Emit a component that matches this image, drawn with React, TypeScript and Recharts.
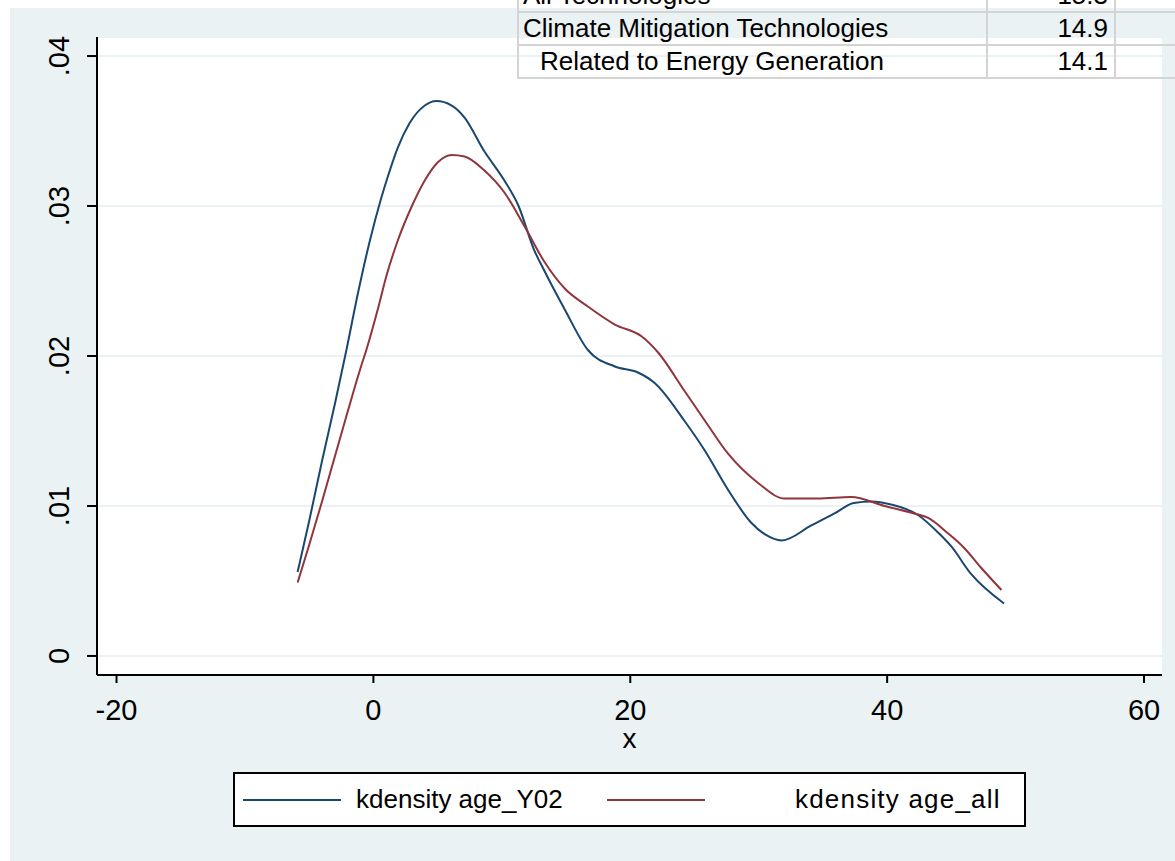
import React from 'react';
import { LineChart, Line, XAxis, YAxis, CartesianGrid } from 'recharts';

const xTicks = [-20, 0, 20, 40, 60];
const yTicks = [0, 0.01, 0.02, 0.03, 0.04];

const ageY02X = [-5.9, -5.0, -4.0, -3.0, -2.1, -1.2, -0.3, 0.6, 1.1, 1.9, 2.8, 4.0, 4.9, 6.1, 7.1, 8.6, 10.2, 11.3, 12.5, 13.3, 14.9, 16.7, 18.8, 20.6, 21.9, 24.2, 25.8, 27.6, 29.4, 30.5, 31.8, 34.1, 35.9, 37.4, 38.8, 40.3, 42.4, 44.0, 45.0, 46.5, 49.1];
const ageY02D = [0.0056, 0.0090, 0.0130, 0.0168, 0.0204, 0.0242, 0.0276, 0.0305, 0.0319, 0.0339, 0.0355, 0.0367, 0.0370, 0.0367, 0.0359, 0.0337, 0.0317, 0.0300, 0.0271, 0.0257, 0.0231, 0.0204, 0.0193, 0.0189, 0.0182, 0.0157, 0.0137, 0.0111, 0.0089, 0.0081, 0.0077, 0.0087, 0.0095, 0.0102, 0.0103, 0.0101, 0.0094, 0.0082, 0.0073, 0.0055, 0.0035];

const ageAllX = [-5.9, -5.0, -4.0, -3.0, -2.0, -1.0, -0.55, 0.4, 1.0, 1.9, 3.0, 4.0, 5.0, 6.1, 7.1, 8.6, 10.2, 11.8, 13.3, 14.9, 16.7, 18.8, 20.9, 22.2, 24.2, 25.8, 27.6, 30.0, 32.0, 34.6, 37.2, 39.8, 42.1, 43.2, 44.7, 46.0, 47.3, 48.9];
const ageAllD = [0.0049, 0.0074, 0.0103, 0.0133, 0.0163, 0.0192, 0.0204, 0.0233, 0.0253, 0.0277, 0.0300, 0.0317, 0.0329, 0.0334, 0.0333, 0.0324, 0.0309, 0.0286, 0.0263, 0.0245, 0.0233, 0.0221, 0.0213, 0.0202, 0.0177, 0.0157, 0.0135, 0.0115, 0.0105, 0.0105, 0.0106, 0.0100, 0.0095, 0.0092, 0.0082, 0.0072, 0.0059, 0.0044];

const seriesNames = ['kdensity age_Y02', 'kdensity age_all'];
const seriesColors = ['#1A476F', '#90353B'];

const tableRows = [
  { label: 'All Technologies', value: '15.3', indent: false },
  { label: 'Climate Mitigation Technologies', value: '14.9', indent: false },
  { label: 'Related to Energy Generation', value: '14.1', indent: true },
];

const dataY02 = ageY02X.map((x, i) => ({ x, y: ageY02D[i] }));
const dataAll = ageAllX.map((x, i) => ({ x, y: ageAllD[i] }));

const FONT = '"Liberation Sans", Arial, sans-serif';
const BG = '#EAF2F3';

const fmtY = (v: number) => (v === 0 ? '0' : v.toFixed(2).replace(/^0/, ''));

const YTick = (props: any) => {
  const { x, y, payload } = props;
  const tx = x - 18;
  return (
    <text
      x={tx}
      y={y}
      transform={`rotate(-90, ${tx}, ${y})`}
      textAnchor="middle"
      fontSize={29}
      fontFamily={FONT}
      fill="#000"
    >
      {fmtY(payload.value)}
    </text>
  );
};

const XLabel = (props: any) => {
  const vb = props.viewBox || {};
  return (
    <text
      x={vb.x + vb.width / 2}
      y={vb.y + 73}
      textAnchor="middle"
      fontSize={28}
      fontFamily={FONT}
      fill="#000"
    >
      x
    </text>
  );
};

export default function App() {
  return (
    <div style={{ position: 'absolute', left: 0, top: 0, width: 1175, height: 861, background: '#fff', overflow: 'hidden', fontFamily: FONT }}>
      <div style={{ position: 'absolute', left: 10, top: 8, right: 0, bottom: 0, background: BG }} />
      <div style={{ position: 'absolute', left: 0, top: 0 }}>
        <LineChart width={1175} height={861} margin={{ top: 37, right: 13, left: 0, bottom: 106 }}>
          <CartesianGrid vertical={false} fill="#fff" stroke={BG} strokeWidth={2} />
          <XAxis
            type="number"
            dataKey="x"
            domain={[-21.52, 61.4]}
            ticks={xTicks}
            allowDataOverflow
            height={80}
            tickSize={8}
            tickMargin={16}
            axisLine={{ stroke: '#000', strokeWidth: 2 }}
            tickLine={{ stroke: '#000', strokeWidth: 2 }}
            tick={{ fontSize: 29, fill: '#000', fontFamily: FONT }}
            label={<XLabel />}
          />
          <YAxis
            type="number"
            dataKey="y"
            domain={[-0.00127, 0.04127]}
            ticks={yTicks}
            allowDataOverflow
            width={97}
            tickSize={10}
            tickMargin={0}
            axisLine={{ stroke: '#000', strokeWidth: 2 }}
            tickLine={{ stroke: '#000', strokeWidth: 2 }}
            tick={<YTick />}
          />
          <Line data={dataY02} dataKey="y" name={seriesNames[0]} type="monotone" stroke={seriesColors[0]} strokeWidth={2} dot={false} isAnimationActive={false} />
          <Line data={dataAll} dataKey="y" name={seriesNames[1]} type="monotone" stroke={seriesColors[1]} strokeWidth={2} dot={false} isAnimationActive={false} />
        </LineChart>
      </div>

      {/* legend */}
      <div style={{ position: 'absolute', left: 233, top: 772, width: 789, height: 51, border: '2px solid #000', background: '#fff', boxSizing: 'content-box' }}>
        {seriesNames.map((n, i) => (
          <div key={n} style={{ position: 'absolute', left: i === 0 ? 8 : 372, top: 0, height: 51, display: 'flex', alignItems: 'center' }}>
            <div style={{ width: 98, height: 0, borderTop: `2px solid ${seriesColors[i]}` }} />
            <span style={{ marginLeft: i === 0 ? 15 : 90, fontSize: 26, color: '#000', whiteSpace: 'nowrap', letterSpacing: i === 0 ? 0 : 1.2 }}>{n}</span>
          </div>
        ))}
      </div>

      {/* overlay table */}
      <div style={{ position: 'absolute', left: 517, top: -22 }}>
        {tableRows.map((r, i) => (
          <div key={r.label} style={{ display: 'flex', height: 31, borderTop: '2px solid #d4d4d4', borderBottom: i === tableRows.length - 1 ? '2px solid #d4d4d4' : 'none' }}>
            <div style={{ width: 471, borderLeft: '2px solid #d4d4d4', borderRight: '2px solid #d4d4d4', fontSize: 26, lineHeight: '31px', paddingLeft: r.indent ? 21 : 4, boxSizing: 'border-box', color: '#000', whiteSpace: 'nowrap' }}>{r.label}</div>
            <div style={{ width: 128, borderRight: '2px solid #d4d4d4', fontSize: 26, lineHeight: '31px', textAlign: 'right', paddingRight: 6, boxSizing: 'border-box', color: '#000' }}>{r.value}</div>
            <div style={{ width: 70 }} />
          </div>
        ))}
      </div>
    </div>
  );
}
